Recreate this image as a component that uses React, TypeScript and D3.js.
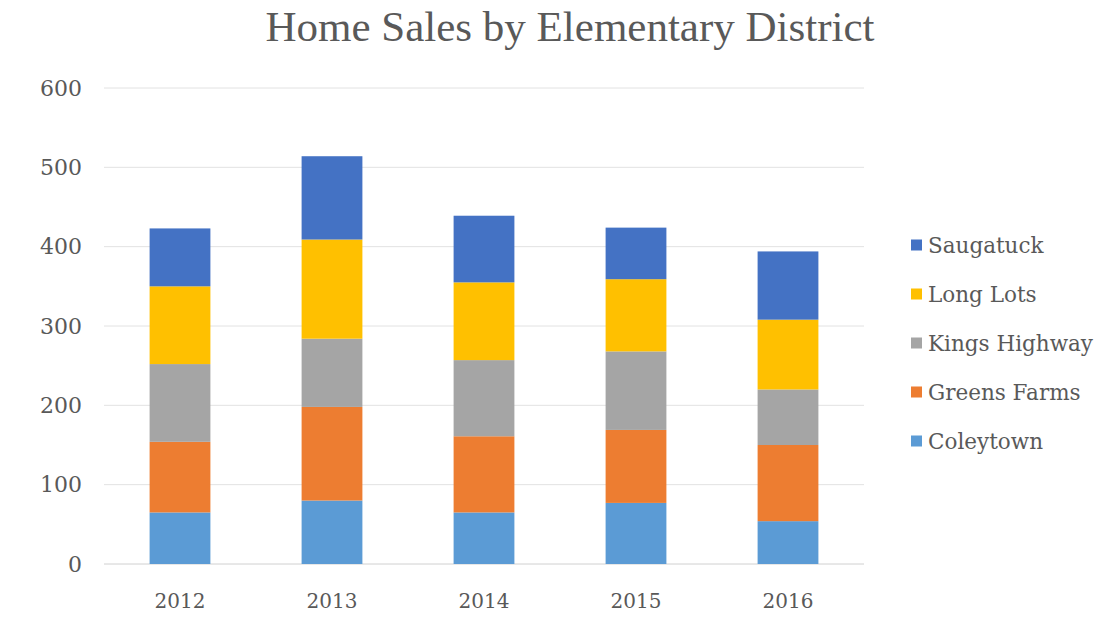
import React from 'react';
import * as d3 from 'd3';

// years on the x axis
const years = ['2012', '2013', '2014', '2015', '2016'];

// districts, bottom of the stack first
const districts = ['Coleytown', 'Greens Farms', 'Kings Highway', 'Long Lots', 'Saugatuck'];

// sales per district, one value per year
const coleytown = [65, 80, 65, 77, 54];
const greensFarms = [89, 118, 96, 92, 96];
const kingsHighway = [98, 86, 96, 99, 70];
const longLots = [98, 125, 98, 91, 88];
const saugatuck = [73, 105, 84, 65, 86];

const yTicks = [0, 100, 200, 300, 400, 500, 600];

const colors = ['#5B9BD5', '#ED7D31', '#A5A5A5', '#FFC000', '#4472C4'];

const App = () => {
  const width = 1110;
  const height = 629;
  const titleFont = "'Liberation Serif', serif";
  const font = "'DejaVu Serif', serif";
  const textColor = '#595959';

  // build rows for d3.stack from the small arrays
  const seriesValues = [coleytown, greensFarms, kingsHighway, longLots, saugatuck];
  const rows = years.map((yr, i) => {
    const row: any = {year: yr};
    districts.forEach((d, j) => { row[d] = seriesValues[j][i]; });
    return row;
  });
  const stacked = d3.stack<any>().keys(districts)(rows);

  const x = d3.scaleBand<string>()
    .domain(years)
    .range([104, 864])
    .paddingInner(0.6)
    .paddingOuter(0.3);

  const y = d3.scaleLinear().domain([0, 600]).range([564, 88]);

  const color = d3.scaleOrdinal<string, string>().domain(districts).range(colors);

  // legend goes top to bottom, reversed from the stack
  const legendItems = districts.slice().reverse();

  return (
    <div style={{position: 'absolute', left: 0, top: 0}}>
      <svg width={width} height={height} style={{display: 'block', background: '#fff'}}>
        <text x={570} y={41} textAnchor="middle" fontFamily={titleFont} fontSize={43} fill={textColor}>
          Home Sales by Elementary District
        </text>

        {/* gridlines */}
        {yTicks.map(t => (
          <line key={t} x1={104} x2={864} y1={y(t)} y2={y(t)}
            stroke={t === 0 ? '#d0d0d0' : '#e2e2e2'} strokeWidth={1} />
        ))}

        {/* y tick labels */}
        {yTicks.map(t => (
          <text key={'l' + t} x={82} y={y(t)} dy="0.35em" textAnchor="end"
            fontFamily={font} fontSize={22} fill={textColor}>{t}</text>
        ))}

        {/* stacked bars */}
        {stacked.map(s => (
          <g key={s.key} fill={color(s.key)}>
            {s.map((d, i) => (
              <rect key={i} x={x(years[i])} width={x.bandwidth()}
                y={y(d[1])} height={y(d[0]) - y(d[1])} />
            ))}
          </g>
        ))}

        {/* x labels */}
        {years.map(yr => (
          <text key={yr} x={(x(yr) || 0) + x.bandwidth() / 2} y={608} textAnchor="middle"
            fontFamily={font} fontSize={20} fill={textColor}>{yr}</text>
        ))}

        {/* legend */}
        {legendItems.map((d, i) => (
          <g key={d} transform={`translate(911, ${245 + i * 49})`}>
            <rect x={0} y={-5.5} width={11} height={11} fill={color(d)} />
            <text x={17} y={0} dy="0.35em" fontFamily={font} fontSize={21.5} fill={textColor}>{d}</text>
          </g>
        ))}
      </svg>
    </div>
  );
};

export default App;
